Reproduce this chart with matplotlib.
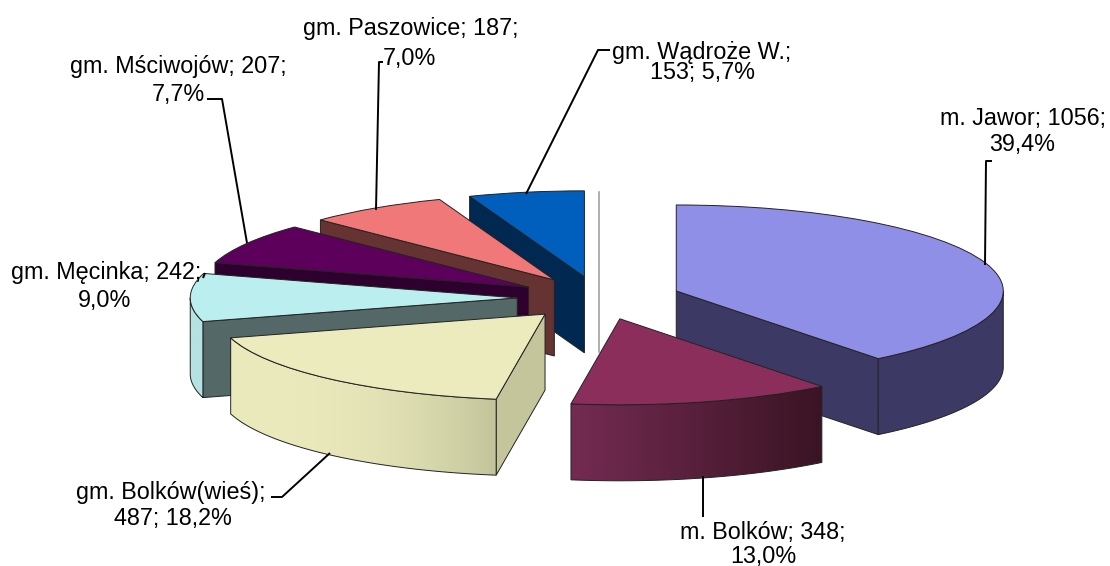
#!/usr/bin/env python3
"""Exploded pseudo-3D pie: top faces from ax.pie, side walls added by hand."""

import matplotlib
matplotlib.use("Agg")
import matplotlib.pyplot as plt
import numpy as np
from matplotlib.colors import to_rgb
from matplotlib.patches import Polygon
from matplotlib.transforms import Affine2D

plt.rcParams["font.family"] = ["Liberation Sans", "DejaVu Sans"]

W, H = 1110, 566
CX, CY = 599, 298     # pie centre, px
RX, RY = 327, 86      # ellipse radii of the tilted pie
DEPTH = 76
EXPLODE = 0.25
EDGE = "#222222"

values = [1056, 348, 487, 242, 207, 187, 153]
top_colors = ["#8F8FE8", "#8C2E5C", "#EBEBBD", "#BBEEEE", "#5C005C", "#F07878", "#005EBC"]
cut_colors = ["#3C3A64", None, "#C5C59C", "#546868", "#2D002D", "#663333", "#002850"]
# which radial edge shows a cut face: end of the slice or its start
cut_edges = ["end", None, "start", "start", "start", "start", "start"]
wall_left = ["#3C3A64", "#742B52", "#EAEABD", "#B5E2E2", None, None, None]
wall_right = ["#3C3A64", "#3A1424", "#C3C39A", "#B5E2E2", None, None, None]
wall_gamma = [1, 1, 2.6, 1, 1, 1, 1]
draw_order = [6, 5, 4, 3, 2, 0, 1]

label_lines = ["gm. Paszowice; 187;", "7,0%", "gm. Mściwojów; 207;", "7,7%",
               "gm. Wądroże W.;", "153; 5,7%", "m. Jawor; 1056;", "39,4%",
               "gm. Męcinka; 242;", "9,0%", "gm. Bolków(wieś);", "487; 18,2%",
               "m. Bolków; 348;", "13,0%"]
label_x = [411, 409, 178, 178, 702, 702, 1023, 1022, 106, 105, 171, 173, 763, 763]
label_y = [28, 58, 66, 94, 52, 72, 118, 144, 273, 300, 492, 518, 532, 557]

leader_x = [[985, 986, 992], [703, 703], [330, 282, 271], [207, 222, 247],
            [376, 379, 383], [526, 598, 610], [203, 205]]
leader_y = [[265, 161, 161], [476, 517], [453, 497, 497], [99, 99, 243],
            [210, 62, 62], [194, 50, 50], [278, 273]]


def rim(apex, deg, drop=0.0):
    t = np.radians(deg)
    return apex[0] + RX * np.sin(t), apex[1] - RY * np.cos(t) + drop


def main():
    fig = plt.figure(figsize=(W / 100, H / 100), dpi=100)
    ax = fig.add_axes([0, 0, 1, 1])

    wedges, _ = ax.pie(values, explode=[EXPLODE] * len(values), startangle=90,
                       counterclock=False, radius=1.0)
    shares = np.array(values) / sum(values) * 360
    ends = np.cumsum(shares)
    starts = ends - shares
    mids = (starts + ends) / 2

    to_px = Affine2D().scale(RX, -RY).translate(CX, CY) + ax.transData

    for z, i in enumerate(draw_order):
        base = 10 + z * 10
        apex = (CX + EXPLODE * RX * np.sin(np.radians(mids[i])),
                CY - EXPLODE * RY * np.cos(np.radians(mids[i])))

        if cut_edges[i]:
            a = ends[i] if cut_edges[i] == "end" else starts[i]
            p, q = rim(apex, a), rim(apex, a, DEPTH)
            ax.add_patch(Polygon([apex, p, q, (apex[0], apex[1] + DEPTH)], closed=True,
                                 fc=cut_colors[i], ec=EDGE, lw=0.7, zorder=base))

        lo, hi = max(starts[i], 90), min(ends[i], 270)
        if lo < hi:
            ang = np.linspace(lo, hi, 120)
            upper = [rim(apex, a) for a in ang]
            lower = [rim(apex, a, DEPTH) for a in ang[::-1]]
            outline = np.array(upper + lower)
            x0, x1 = outline[:, 0].min(), outline[:, 0].max()
            y0, y1 = outline[:, 1].min(), outline[:, 1].max()
            c0, c1 = np.array(to_rgb(wall_left[i])), np.array(to_rgb(wall_right[i]))
            ramp = (np.linspace(0, 1, 256) ** wall_gamma[i])[None, :, None]
            img = ax.imshow(c0 + (c1 - c0) * ramp, extent=(x0, x1, y1, y0),
                            aspect="auto", zorder=base + 1, interpolation="bilinear")
            wall = Polygon(outline, closed=True, fc="none", ec=EDGE, lw=0.7, zorder=base + 2)
            ax.add_patch(wall)
            img.set_clip_path(wall)

        wedges[i].set_transform(to_px)
        wedges[i].set_facecolor(top_colors[i])
        wedges[i].set_edgecolor(EDGE)
        wedges[i].set_linewidth(0.7)
        wedges[i].set_zorder(base + 3)

    ax.plot([598.5, 598.5], [192, 352], color="#999999", lw=1.1, zorder=5)

    for xs, ys in zip(leader_x, leader_y):
        ax.plot(xs, ys, color="black", lw=1.4, zorder=200, solid_capstyle="butt")
    for s, x, y in zip(label_lines, label_x, label_y):
        ax.text(x, y, s, ha="center", va="center", fontsize=16.8, color="black", zorder=210)

    ax.set_xlim(0, W)
    ax.set_ylim(H, 0)
    ax.set_aspect("auto")
    ax.axis("off")
    fig.savefig("out.png", dpi=100, facecolor="white")
    plt.close(fig)


if __name__ == "__main__":
    main()
